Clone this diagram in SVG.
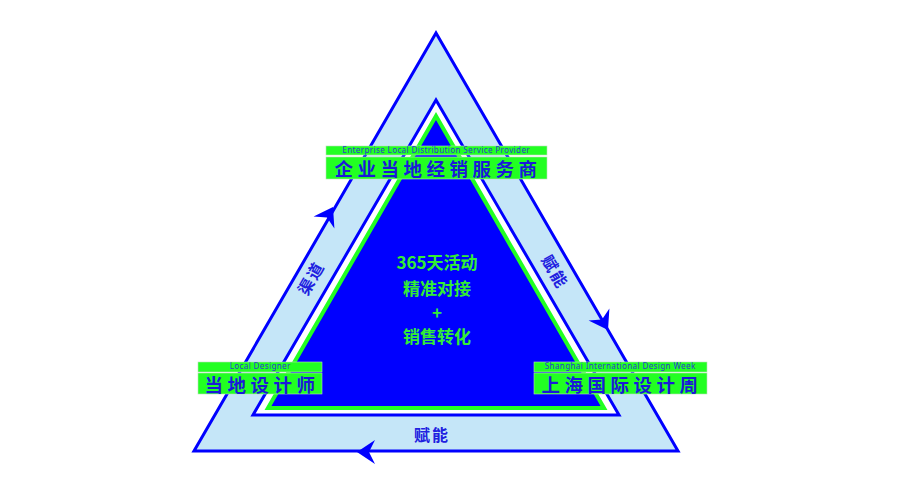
<svg xmlns="http://www.w3.org/2000/svg" width="900" height="500" viewBox="0 0 900 500">
<style>
.cn{font-family:"Noto Sans CJK SC","Noto Sans",sans-serif;font-weight:bold}
.lbl{fill:#1a1ad8;font-size:18.5px;letter-spacing:4.5px;text-anchor:middle}
.en{fill:#2a3ad0;font-size:8px;letter-spacing:0.4px;text-anchor:middle;font-family:"Noto Sans","Open Sans",sans-serif}
.bar{fill:#22ff22;stroke:#b8e0b8;stroke-width:0.6}
.edge{fill:#2020e0;font-size:16px;text-anchor:middle}
.mid{fill:#33ee33;font-size:17px;text-anchor:middle}
</style>
<defs>
<path id="ah" d="M0,0 L-18,-12 L-12,0 L-18,12 Z" fill="#0000ff"/>
</defs>
<rect width="900" height="500" fill="#ffffff"/>
<g id="ring">
<polygon points="436,33 194,451 678,451" fill="#c5e6f8" stroke="#0000ff" stroke-width="3" stroke-linejoin="miter"/>
<polygon points="436,100 253,415 619,415" fill="#ffffff" stroke="#0000ff" stroke-width="3"/>
<polygon points="436,116 268,408 604,408" fill="#0000ff" stroke="#22ff22" stroke-width="4"/>
</g>
<g id="connectors">
<use href="#ah" transform="translate(333,207) rotate(-60)"/>
<use href="#ah" transform="translate(608,330) rotate(60)"/>
<use href="#ah" transform="translate(357,452) rotate(180)"/>
<text class="cn edge" transform="translate(311,278) rotate(-60)" dy="6" letter-spacing="2">渠道</text>
<text class="cn edge" transform="translate(555,272) rotate(60)" dy="6" letter-spacing="2">赋能</text>
<text class="cn edge" x="432" y="441" letter-spacing="2">赋能</text>
</g>
<g id="center">
<text class="cn mid" x="437" y="269">365天活动</text>
<text class="cn mid" x="437" y="295">精准对接</text>
<text class="cn mid" x="437" y="319">+</text>
<text class="cn mid" x="437" y="343">销售转化</text>
</g>
<g id="node-top">
<rect class="bar" x="326" y="146" width="221" height="9"/>
<rect class="bar" x="326" y="157" width="221" height="22"/>
<text class="en" x="436.2" y="152.5">Enterprise Local Distribution Service Provider</text>
<text class="cn lbl" x="438" y="176">企业当地经销服务商</text>
</g>
<g id="node-left">
<rect class="bar" x="198" y="362" width="124" height="10"/>
<rect class="bar" x="198" y="373" width="124" height="21"/>
<text class="en" x="260.2" y="369">Local Designer</text>
<text class="cn lbl" x="262" y="391.5">当地设计师</text>
</g>
<g id="node-right">
<rect class="bar" x="534" y="362" width="173" height="10"/>
<rect class="bar" x="534" y="373" width="173" height="21"/>
<text class="en" x="620.2" y="369">Shanghai International Design Week</text>
<text class="cn lbl" x="622" y="391.5">上海国际设计周</text>
</g>
</svg>
